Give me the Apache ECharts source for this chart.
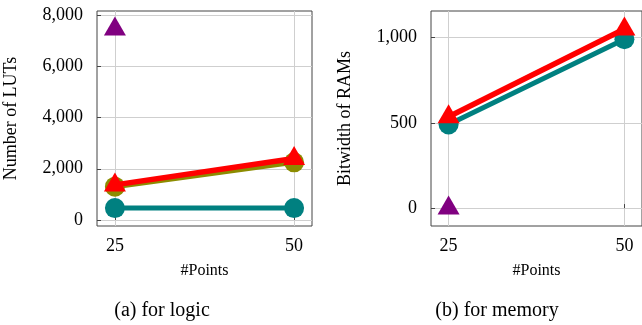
<!DOCTYPE html>
<html>
<head>
<meta charset="utf-8">
<script src="https://cdn.jsdelivr.net/npm/echarts@6/dist/echarts.min.js"></script>
<style>
    html, body { margin: 0; padding: 0; background: #fff; }
    #chart { width: 642px; height: 325px; }
</style>
</head>
<body>
<div id="chart"></div>
<script>
    // x positions (#Points)
    const points = [25, 50];
    const purplePoints = [25];
    // (a) for logic - number of LUTs
    const lutTeal = [465, 465];
    const lutOlive = [1300, 2250];
    const lutRed = [1370, 2400];
    const lutPurple = [7457];
    const lutTicks = [0, 2000, 4000, 6000, 8000];
    // (b) for memory - bitwidth of RAMs
    const ramTeal = [490, 990];
    const ramRed = [535, 1050];
    const ramPurple = [0];
    const ramTicks = [0, 500, 1000];

    const pairs = (xs, ys) => ys.map((v, i) => [xs[i], v]);
    const fmt = v => v.toLocaleString('en-US');
    const serif = '"Liberation Serif", "DejaVu Serif", serif';

    const xAxisOpt = (idx) => ({
        type: 'value', gridIndex: idx, min: 22.5, max: 52.5,
        name: '#Points', nameLocation: 'middle', nameGap: 37,
        nameTextStyle: { fontFamily: serif, fontSize: 16, color: '#000' },
        axisLine: { show: false },
        axisTick: { show: true, inside: true, length: 4, customValues: points, lineStyle: { color: '#444' } },
        axisLabel: { customValues: points, margin: 11, fontFamily: serif, fontSize: 18, color: '#000' },
        splitLine: { show: true, lineStyle: { color: '#cfcfcf', width: 1 } }
    });
    const yAxisOpt = (idx, min, max, ticks, title) => ({
        type: 'value', gridIndex: idx, min: min, max: max,
        name: title, nameLocation: 'middle', nameGap: 77, nameRotate: 90,
        nameTextStyle: { fontFamily: serif, fontSize: 18, color: '#000' },
        axisLine: { show: false },
        axisTick: { show: true, inside: true, length: 4, customValues: ticks, lineStyle: { color: '#444' } },
        axisLabel: { customValues: ticks, margin: 14, fontFamily: serif, fontSize: 18, color: '#000', formatter: fmt },
        splitLine: { show: true, lineStyle: { color: '#cfcfcf', width: 1 } }
    });

    const circleLine = (name, idx, data, color, width) => ({
        name: name, type: 'line', xAxisIndex: idx, yAxisIndex: idx, data: data,
        symbol: 'circle', symbolSize: 20, color: color,
        lineStyle: { color: color, width: width }, itemStyle: { color: color },
        animation: false, z: 2
    });
    const triLine = (name, idx, data, color, width) => ({
        name: name, type: 'line', xAxisIndex: idx, yAxisIndex: idx, data: data,
        symbol: 'triangle', symbolSize: [22, 19], symbolOffset: [0, -3], color: color,
        lineStyle: { color: color, width: width }, itemStyle: { color: color },
        animation: false, z: 3
    });

    const chart = echarts.init(document.getElementById('chart'));
    chart.setOption({
        backgroundColor: '#fff',
        animation: false,
        grid: [
            { left: 97, top: 11, width: 215, height: 215, show: true, borderColor: '#444', borderWidth: 1, backgroundColor: 'transparent' },
            { left: 431, top: 11, width: 214, height: 215, show: true, borderColor: '#444', borderWidth: 1, backgroundColor: 'transparent' }
        ],
        xAxis: [xAxisOpt(0), xAxisOpt(1)],
        yAxis: [
            yAxisOpt(0, -234, 8156, lutTicks, 'Number of LUTs'),
            yAxisOpt(1, -105, 1155, ramTicks, 'Bitwidth of RAMs')
        ],
        series: [
            circleLine('teal', 0, pairs(points, lutTeal), '#008080', 5),
            circleLine('olive', 0, pairs(points, lutOlive), '#8c8c00', 5),
            triLine('red', 0, pairs(points, lutRed), '#ff0000', 5.5),
            triLine('purple', 0, pairs(purplePoints, lutPurple), '#800080', 5),
            circleLine('teal', 1, pairs(points, ramTeal), '#008080', 5),
            triLine('red', 1, pairs(points, ramRed), '#ff0000', 5.5),
            triLine('purple', 1, pairs(purplePoints, ramPurple), '#800080', 5)
        ],
        graphic: [
            { type: 'text', x: 162, y: 311, style: { text: '(a) for logic', textAlign: 'center', textVerticalAlign: 'middle', font: '20px ' + serif, fill: '#000' } },
            { type: 'text', x: 497, y: 311, style: { text: '(b) for memory', textAlign: 'center', textVerticalAlign: 'middle', font: '20px ' + serif, fill: '#000' } }
        ]
    });
</script>
</body>
</html>
